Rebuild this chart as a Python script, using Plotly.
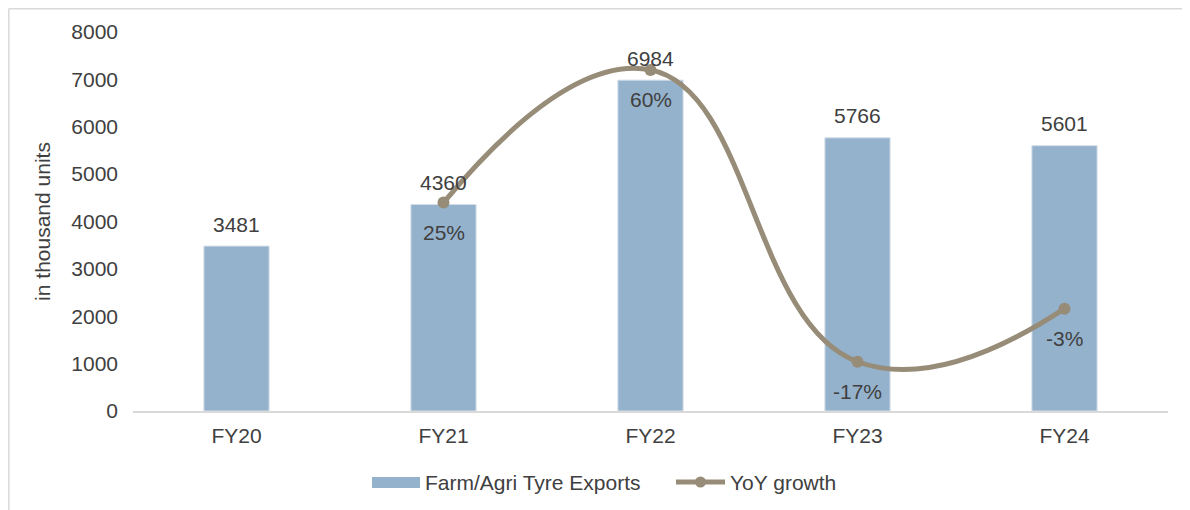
import plotly.graph_objects as go

categories = ["FY20", "FY21", "FY22", "FY23", "FY24"]
exports = [3481, 4360, 6984, 5766, 5601]
growth_cats = ["FY21", "FY22", "FY23", "FY24"]
growth = [25, 60, -17, -3]
growth_labels = ["25%", "60%", "-17%", "-3%"]
series_names = ["Farm/Agri Tyre Exports", "YoY growth"]

BAR = "#95B2CC"
LINE = "#978C77"
TXT = "#404040"
FONT = "Liberation Sans, Arial, sans-serif"
FS = 21

# page offset of 8px (body margin) compensated in margins
L, T, R, B = 125, 24, 30, 107
PX0, PX1, PY0, PY1 = 133, 1168, 32, 411  # plot area in page pixels


def px(x):
    return (x - PX0) / (PX1 - PX0)


def py(y):
    return (PY1 - y) / (PY1 - PY0)


fig = go.Figure()
fig.add_trace(go.Bar(
    x=categories, y=exports, name=series_names[0], showlegend=False,
    marker=dict(color=BAR, line=dict(width=1, color="#D3DEE9")),
))
fig.add_trace(go.Scatter(
    x=growth_cats, y=growth, name=series_names[1], yaxis="y2", showlegend=False,
    mode="lines+markers",
    line=dict(color=LINE, width=5, shape="spline", smoothing=1.3),
    marker=dict(color=LINE, size=12),
    cliponaxis=False,
))

annotations = []
for c, v in zip(categories, exports):
    annotations.append(dict(x=c, y=v, xref="x", yref="y", text=str(v), showarrow=False,
                            yanchor="middle", yshift=22, font=dict(size=FS, color=TXT, family=FONT)))
for c, v, t in zip(growth_cats, growth, growth_labels):
    annotations.append(dict(x=c, y=v, xref="x", yref="y2", text=t, showarrow=False,
                            yanchor="middle", yshift=-30, font=dict(size=FS, color=TXT, family=FONT)))

# custom legend
LY = 482
annotations.append(dict(x=px(423), y=py(LY), xref="paper", yref="paper", text=series_names[0],
                        showarrow=False, xanchor="left", yanchor="middle",
                        font=dict(size=FS, color=TXT, family=FONT)))
annotations.append(dict(x=px(728), y=py(LY), xref="paper", yref="paper", text=series_names[1],
                        showarrow=False, xanchor="left", yanchor="middle",
                        font=dict(size=FS, color=TXT, family=FONT)))

shapes = [
    dict(type="line", xref="paper", yref="paper", x0=px(8.8), x1=px(1200), y0=py(8.8), y1=py(8.8),
         line=dict(color="#D9D9D9", width=1.5)),
    dict(type="line", xref="paper", yref="paper", x0=px(8.8), x1=px(8.8), y0=py(8.8), y1=py(520),
         line=dict(color="#D9D9D9", width=1.5)),
    dict(type="rect", xref="paper", yref="paper", x0=px(372), x1=px(420), y0=py(488), y1=py(477),
         fillcolor=BAR, line=dict(width=0)),
    dict(type="line", xref="paper", yref="paper", x0=px(676), x1=px(725), y0=py(LY), y1=py(LY),
         line=dict(color=LINE, width=5)),
    dict(type="circle", xref="paper", yref="paper", x0=px(695), x1=px(706), y0=py(487.5), y1=py(476.5),
         fillcolor=LINE, line=dict(width=0)),
]

fig.update_layout(
    width=1190, height=510,
    margin=dict(l=L, r=R, t=T, b=B, autoexpand=False),
    paper_bgcolor="white", plot_bgcolor="white",
    font=dict(family=FONT, color=TXT, size=FS),
    bargap=0.685,
    showlegend=False,
    xaxis=dict(showgrid=False, showline=True, linecolor="#D9D9D9", linewidth=1.5,
               ticks="", tickfont=dict(size=FS, color=TXT), ticklabelstandoff=5),
    yaxis=dict(range=[0, 8000], dtick=1000, showgrid=False, zeroline=False,
               showline=False, ticks="", tickfont=dict(size=FS, color=TXT), ticklabelstandoff=14,
               title=dict(text="in thousand units", font=dict(size=FS, color=TXT), standoff=14)),
    yaxis2=dict(range=[-30, 70], overlaying="y", side="right", visible=False),
    annotations=annotations,
    shapes=shapes,
)

fig.write_html("out.html")
